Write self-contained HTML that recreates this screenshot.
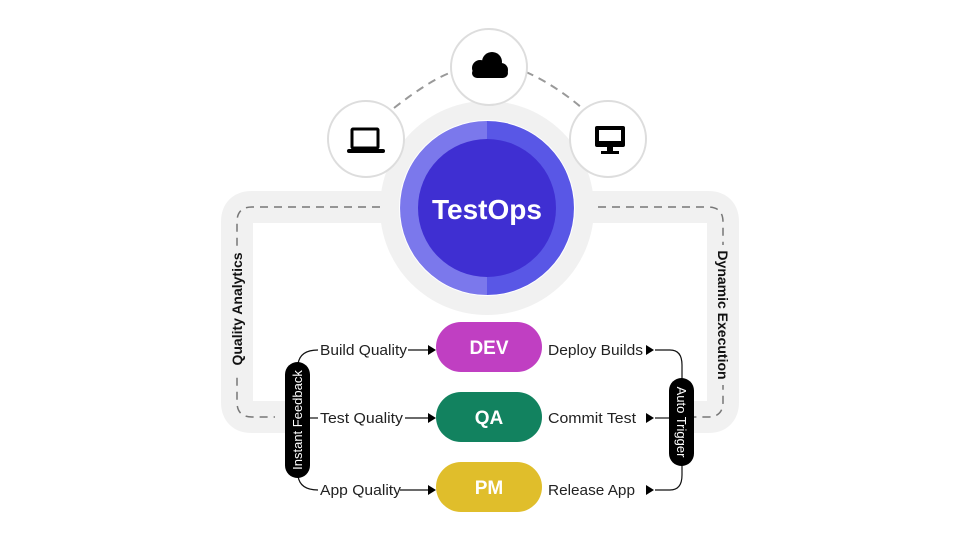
<!DOCTYPE html>
<html><head><style>
html,body{margin:0;padding:0;background:#fff;width:960px;height:540px;overflow:hidden}
svg{display:block}
text{font-family:"Liberation Sans",sans-serif}
</style></head><body>
<svg width="960" height="540" viewBox="0 0 960 540" xmlns="http://www.w3.org/2000/svg">
<path d="M390 207 H252 Q237 207 237 222 V402 Q237 417 252 417 H285" fill="none" stroke="#f1f1f1" stroke-width="32"/>
<path d="M590 207 H708 Q723 207 723 222 V402 Q723 417 708 417 H694" fill="none" stroke="#f1f1f1" stroke-width="32"/>
<path d="M380 207 H252 Q237 207 237 222 V402 Q237 417 252 417 H275" fill="none" stroke="#777" stroke-width="1.5" stroke-dasharray="8 6"/>
<path d="M598 207 H708 Q723 207 723 222 V402 Q723 417 708 417 H694" fill="none" stroke="#777" stroke-width="1.5" stroke-dasharray="8 6"/>
<rect x="229" y="246" width="16" height="128" fill="#f1f1f1"/>
<rect x="715" y="245" width="16" height="140" fill="#f1f1f1"/>
<text transform="translate(242 309) rotate(-90)" text-anchor="middle" font-size="14" font-weight="bold" fill="#111">Quality Analytics</text>
<text transform="translate(718 315) rotate(90)" text-anchor="middle" font-size="14" font-weight="bold" fill="#111">Dynamic Execution</text>
<path d="M394 108 Q430 80 452 72 M526 72 Q555 85 582 108" fill="none" stroke="#999" stroke-width="2" stroke-dasharray="8 6"/>
<circle cx="487" cy="208" r="107" fill="#f1f1f1"/>
<circle cx="487" cy="208" r="88" fill="#fff"/>
<path d="M487 121 A87 87 0 0 0 487 295 Z" fill="#7b78ec"/>
<path d="M487 121 A87 87 0 0 1 487 295 Z" fill="#5957e6"/>
<circle cx="487" cy="208" r="69" fill="#3f2fd2"/>
<text x="487" y="219" text-anchor="middle" font-size="28" font-weight="bold" fill="#fff">TestOps</text>
<circle cx="489" cy="67" r="38" fill="#fff" stroke="#ddd" stroke-width="2"/>
<circle cx="366" cy="139" r="38" fill="#fff" stroke="#ddd" stroke-width="2"/>
<circle cx="608" cy="139" r="38" fill="#fff" stroke="#ddd" stroke-width="2"/>
<g fill="#000"><circle cx="480" cy="68" r="8"/><circle cx="492" cy="62" r="10"/><circle cx="501" cy="70" r="7"/><rect x="472" y="68" width="36" height="10" rx="5"/></g>
<rect x="352" y="129" width="26" height="19" fill="none" stroke="#000" stroke-width="3" rx="1"/>
<rect x="347" y="149" width="38" height="4" rx="2" fill="#000"/>
<rect x="595" y="126" width="30" height="21" rx="2" fill="#000"/>
<rect x="599" y="130" width="22" height="11" fill="#fff"/>
<rect x="607" y="147" width="6" height="4" fill="#000"/>
<rect x="601" y="151" width="18" height="3" fill="#000"/>
<rect x="436" y="322" width="106" height="50" rx="25" fill="#c03fc2"/>
<rect x="436" y="392" width="106" height="50" rx="25" fill="#12825f"/>
<rect x="436" y="462" width="106" height="50" rx="25" fill="#e0be2b"/>
<g font-size="19" font-weight="bold" fill="#fff" text-anchor="middle">
<text x="489" y="354">DEV</text><text x="489" y="424">QA</text><text x="489" y="494">PM</text></g>
<g fill="none" stroke="#111" stroke-width="1.2">
<path d="M298 364 Q300 350 318 350"/><path d="M298 476 Q300 490 318 490"/>
<line x1="310" y1="418" x2="318" y2="418"/>
<line x1="408" y1="350" x2="428" y2="350"/><line x1="405" y1="418" x2="428" y2="418"/><line x1="400" y1="490" x2="428" y2="490"/>
<path d="M655 350 H670 Q682 350 682 365 V380"/><path d="M655 490 H670 Q682 490 682 475 V463"/>
<line x1="655" y1="418" x2="669" y2="418"/>
</g>
<g fill="#000">
<polygon points="428,345 436,350 428,355"/><polygon points="428,413 436,418 428,423"/><polygon points="428,485 436,490 428,495"/>
<polygon points="646,345 654,350 646,355"/><polygon points="646,413 654,418 646,423"/><polygon points="646,485 654,490 646,495"/>
</g>
<g font-size="14.5" fill="#222">
<text x="320" y="355" textLength="87" lengthAdjust="spacingAndGlyphs">Build Quality</text><text x="320" y="423" textLength="83" lengthAdjust="spacingAndGlyphs">Test Quality</text><text x="320" y="495" textLength="81" lengthAdjust="spacingAndGlyphs">App Quality</text>
<text x="548" y="355" textLength="95" lengthAdjust="spacingAndGlyphs">Deploy Builds</text><text x="548" y="423" textLength="88" lengthAdjust="spacingAndGlyphs">Commit Test</text><text x="548" y="495" textLength="87" lengthAdjust="spacingAndGlyphs">Release App</text>
</g>
<rect x="285" y="362" width="25" height="116" rx="12.5" fill="#000"/>
<rect x="669" y="378" width="25" height="88" rx="12.5" fill="#000"/>
<text transform="translate(302 420) rotate(-90)" text-anchor="middle" font-size="13" fill="#fff">Instant Feedback</text>
<text transform="translate(677 422) rotate(90)" text-anchor="middle" font-size="13" fill="#fff">Auto Trigger</text>
</svg>
</body></html>
